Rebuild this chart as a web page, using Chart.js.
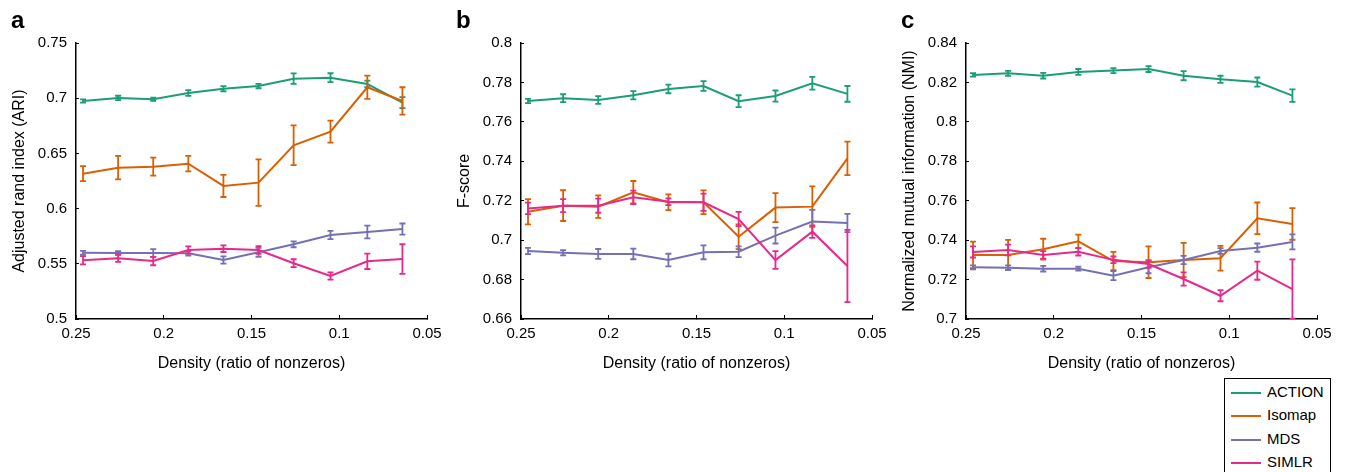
<!DOCTYPE html>
<html>
<head>
<meta charset="utf-8">
<script src="https://cdn.jsdelivr.net/npm/chart.js@4.4.0/dist/chart.umd.min.js"></script>
<style>
    body { margin: 0; background: #fff; width: 1345px; height: 472px; overflow: hidden; position: relative; font-family: "Liberation Sans", Arial, sans-serif; }
    .panel { position: absolute; top: 0; }
    .tag { position: absolute; top: 8px; font-weight: bold; font-size: 24px; line-height: 24px; }
    #legend { position: absolute; left: 1224px; top: 378px; width: 105px; height: 110px; border: 1px solid #000; background: #fff; }
    .row { position: absolute; left: 6px; height: 20px; font-size: 15px; line-height: 20px; }
    .row span { display: inline-block; width: 30px; height: 2px; vertical-align: middle; margin-right: 6px; }
</style>
</head>
<body>
<canvas id="chartA" class="panel" width="445" height="472" style="left:0px"></canvas>
<canvas id="chartB" class="panel" width="445" height="472" style="left:445px"></canvas>
<canvas id="chartC" class="panel" width="445" height="472" style="left:890px"></canvas>
<div class="tag" style="left:11px">a</div>
<div class="tag" style="left:456px">b</div>
<div class="tag" style="left:901px">c</div>
<div id="legend"></div>
<script>
// density values on the x axis
const densities = [0.246, 0.226, 0.206, 0.186, 0.166, 0.146, 0.126, 0.105, 0.084, 0.064];
const xTicks = [0.25, 0.2, 0.15, 0.1, 0.05];
const xTickLabels = ['0.25', '0.2', '0.15', '0.1', '0.05'];

const seriesNames = ['ACTION', 'Isomap', 'MDS', 'SIMLR'];
const seriesColors = ['#1b9e77', '#d95f02', '#7570b3', '#e7298a'];

// a: ARI
const ariAction = [0.6975, 0.7002, 0.699, 0.7047, 0.7086, 0.711, 0.7177, 0.7186, 0.7129, 0.696];
const ariActionErr = [0.0015, 0.002, 0.0015, 0.0026, 0.0023, 0.002, 0.0048, 0.004, 0.003, 0.005];
const ariIsomap = [0.6316, 0.6371, 0.638, 0.6407, 0.6205, 0.6235, 0.6573, 0.6697, 0.7099, 0.6975];
const ariIsomapErr = [0.0068, 0.0106, 0.0082, 0.007, 0.01, 0.021, 0.018, 0.01, 0.0105, 0.0124];
const ariMds = [0.560, 0.5598, 0.5598, 0.5595, 0.5534, 0.5604, 0.5677, 0.5761, 0.5788, 0.5815];
const ariMdsErr = [0.0017, 0.0017, 0.0035, 0.002, 0.0033, 0.004, 0.0027, 0.0038, 0.0057, 0.005];
const ariSimlr = [0.5532, 0.555, 0.5525, 0.5625, 0.5637, 0.5625, 0.5505, 0.539, 0.5523, 0.5543];
const ariSimlrErr = [0.0038, 0.0033, 0.0038, 0.0033, 0.003, 0.0035, 0.0036, 0.0033, 0.007, 0.0134];
const ariTicks = [0.5, 0.55, 0.6, 0.65, 0.7, 0.75];
const ariTickLabels = ['0.5', '0.55', '0.6', '0.65', '0.7', '0.75'];

// b: F-score
const fAction = [0.7706, 0.772, 0.7711, 0.7735, 0.7767, 0.7782, 0.7705, 0.7731, 0.7796, 0.7742];
const fActionErr = [0.0011, 0.002, 0.002, 0.0021, 0.0022, 0.0025, 0.003, 0.0028, 0.0032, 0.004];
const fIsomap = [0.7144, 0.7175, 0.717, 0.7243, 0.7192, 0.7192, 0.7017, 0.7165, 0.717, 0.7415];
const fIsomapErr = [0.0064, 0.0078, 0.0057, 0.0057, 0.004, 0.006, 0.0063, 0.0074, 0.0103, 0.0085];
const fMds = [0.6945, 0.6936, 0.693, 0.693, 0.6899, 0.6938, 0.6941, 0.7023, 0.7094, 0.7087];
const fMdsErr = [0.0016, 0.0013, 0.0025, 0.0027, 0.0032, 0.0035, 0.0027, 0.004, 0.006, 0.0046];
const fSimlr = [0.7161, 0.7175, 0.7175, 0.7217, 0.7195, 0.7192, 0.7107, 0.6899, 0.7043, 0.6869];
const fSimlrErr = [0.0029, 0.0033, 0.0036, 0.0034, 0.0017, 0.0044, 0.0036, 0.0045, 0.0032, 0.0183];
const fTicks = [0.66, 0.68, 0.7, 0.72, 0.74, 0.76, 0.78, 0.8];
const fTickLabels = ['0.66', '0.68', '0.7', '0.72', '0.74', '0.76', '0.78', '0.8'];

// c: NMI
const nmiAction = [0.8238, 0.8246, 0.8234, 0.8253, 0.826, 0.8268, 0.8234, 0.8216, 0.8202, 0.8133];
const nmiActionErr = [0.0009, 0.0013, 0.0014, 0.0015, 0.0013, 0.0015, 0.0023, 0.0018, 0.0023, 0.0032];
const nmiIsomap = [0.7325, 0.7325, 0.7354, 0.7394, 0.7294, 0.7288, 0.7299, 0.7308, 0.7511, 0.7482];
const nmiIsomapErr = [0.0067, 0.0076, 0.0053, 0.0034, 0.0046, 0.008, 0.0087, 0.0063, 0.008, 0.008];
const nmiMds = [0.7262, 0.726, 0.7255, 0.7255, 0.722, 0.7262, 0.7299, 0.7345, 0.7362, 0.7391];
const nmiMdsErr = [0.001, 0.0012, 0.0014, 0.001, 0.0023, 0.003, 0.0021, 0.0015, 0.0021, 0.0038];
const nmiSimlr = [0.734, 0.735, 0.7325, 0.7341, 0.73, 0.7279, 0.7203, 0.7118, 0.7245, 0.7152];
const nmiSimlrErr = [0.0028, 0.0027, 0.0019, 0.0019, 0.0017, 0.0019, 0.0034, 0.0028, 0.0046, 0.015];
const nmiTicks = [0.7, 0.72, 0.74, 0.76, 0.78, 0.8, 0.82, 0.84];
const nmiTickLabels = ['0.7', '0.72', '0.74', '0.76', '0.78', '0.8', '0.82', '0.84'];

Chart.defaults.font.family = "'Liberation Sans', Arial, sans-serif";
Chart.defaults.color = '#000';

// vertical error bars with caps, drawn after each line
const errorBars = {
    id: 'errorBars',
    afterDatasetDraw(chart, args) {
        const ds = chart.data.datasets[args.index];
        if (!ds.errors) return;
        const { ctx, chartArea, scales: { x, y } } = chart;
        ctx.save();
        ctx.beginPath();
        ctx.rect(chartArea.left, chartArea.top - 20, chartArea.width, chartArea.height + 20);
        ctx.clip();
        ctx.strokeStyle = ds.borderColor;
        ctx.lineWidth = 1.8;
        ds.data.forEach((p, i) => {
            const px = x.getPixelForValue(p.x);
            const top = y.getPixelForValue(p.y + ds.errors[i]);
            const bot = y.getPixelForValue(p.y - ds.errors[i]);
            ctx.beginPath();
            ctx.moveTo(px, top); ctx.lineTo(px, bot);
            ctx.moveTo(px - 3, top); ctx.lineTo(px + 3, top);
            ctx.moveTo(px - 3, bot); ctx.lineTo(px + 3, bot);
            ctx.stroke();
        });
        ctx.restore();
    }
};

function makePanel(id, yTitle, yTicks, yTickLabels, values, errors) {
    return new Chart(document.getElementById(id), {
        type: 'line',
        data: {
            datasets: seriesNames.map((name, s) => ({
                label: name,
                data: densities.map((d, i) => ({ x: d, y: values[s][i] })),
                errors: errors[s],
                borderColor: seriesColors[s],
                backgroundColor: seriesColors[s],
                borderWidth: 2,
                pointRadius: 0,
                tension: 0,
                order: seriesNames.length - s
            }))
        },
        options: {
            responsive: false,
            animation: false,
            devicePixelRatio: 1,
            layout: { padding: { left: 0, right: 18, top: 43, bottom: 98 } },
            plugins: { legend: { display: false }, tooltip: { enabled: false } },
            scales: {
                x: {
                    type: 'linear',
                    reverse: true,
                    min: 0.05,
                    max: 0.25,
                    afterBuildTicks: s => { s.ticks = xTicks.map(v => ({ value: v })); },
                    afterFit: s => { s.height = 55; s.paddingLeft = 0; s.paddingRight = 0; },
                    border: { color: '#000', width: 1.5 },
                    grid: { drawOnChartArea: false, color: '#000', tickLength: -4, lineWidth: 1 },
                    ticks: { font: { size: 15 }, padding: 10, maxRotation: 0, callback: (v, i) => xTickLabels[i] },
                    title: { display: true, text: 'Density (ratio of nonzeros)', font: { size: 16 }, padding: { top: 0, bottom: 1 } }
                },
                y: {
                    min: yTicks[0],
                    max: yTicks[yTicks.length - 1],
                    afterBuildTicks: s => { s.ticks = yTicks.map(v => ({ value: v })); },
                    afterFit: s => { s.width = 76; },
                    border: { color: '#000', width: 1.5 },
                    grid: { drawOnChartArea: false, color: '#000', tickLength: -3, lineWidth: 1 },
                    ticks: { font: { size: 15 }, padding: 12, callback: (v, i) => yTickLabels[i] },
                    title: { display: true, text: yTitle, font: { size: 16 }, padding: { top: 10, bottom: 0 } }
                }
            }
        },
        plugins: [errorBars]
    });
}

makePanel('chartA', 'Adjusted rand index (ARI)', ariTicks, ariTickLabels,
    [ariAction, ariIsomap, ariMds, ariSimlr], [ariActionErr, ariIsomapErr, ariMdsErr, ariSimlrErr]);
makePanel('chartB', 'F-score', fTicks, fTickLabels,
    [fAction, fIsomap, fMds, fSimlr], [fActionErr, fIsomapErr, fMdsErr, fSimlrErr]);
makePanel('chartC', 'Normalized mutual information (NMI)', nmiTicks, nmiTickLabels,
    [nmiAction, nmiIsomap, nmiMds, nmiSimlr], [nmiActionErr, nmiIsomapErr, nmiMdsErr, nmiSimlrErr]);

// legend box
const legend = document.getElementById('legend');
seriesNames.forEach((name, s) => {
    const row = document.createElement('div');
    row.className = 'row';
    row.style.top = (3 + s * 23.3) + 'px';
    row.innerHTML = '<span style="background:' + seriesColors[s] + '"></span>' + name;
    legend.appendChild(row);
});
</script>
</body>
</html>
